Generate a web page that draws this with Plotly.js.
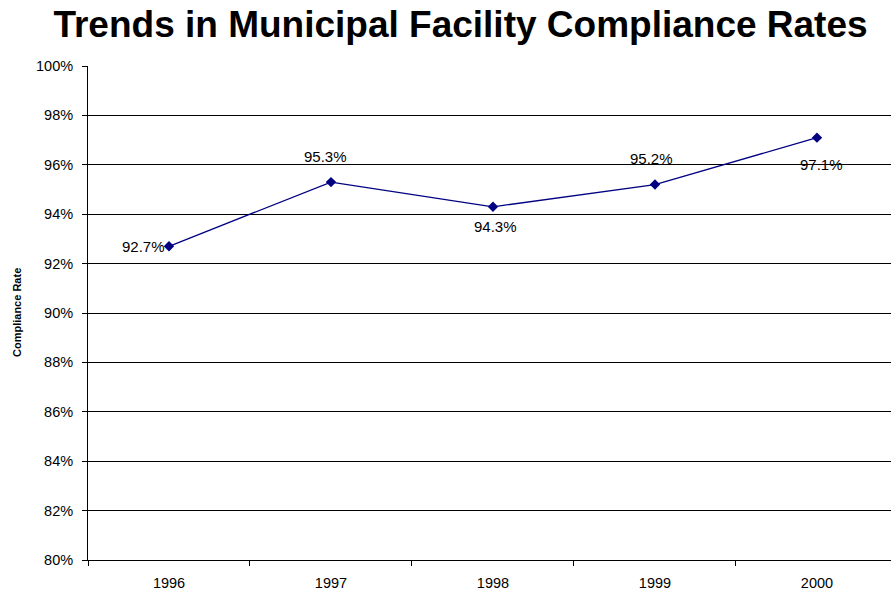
<!DOCTYPE html>
<html>
<head>
<meta charset="utf-8">
<script src="https://cdn.plot.ly/plotly-3.0.1.min.js"></script>
<style>html,body{margin:0;padding:0;background:#fff;}#chart{width:891px;height:594px;}</style>
</head>
<body>
<div id="chart"></div>
<script>
const years = ['1996', '1997', '1998', '1999', '2000'];
const rates = [0.927, 0.953, 0.943, 0.952, 0.971];
const labels = ['92.7%', '95.3%', '94.3%', '95.2%', '97.1%'];
const yTicks = [0.80, 0.82, 0.84, 0.86, 0.88, 0.90, 0.92, 0.94, 0.96, 0.98, 1.00];
const yTickLabels = ['80%', '82%', '84%', '86%', '88%', '90%', '92%', '94%', '96%', '98%', '100%'];
const yTitle = 'Compliance Rate';
const chartTitle = 'Trends in Municipal Facility Compliance Rates';

// label placement (style only): pixel offsets of each data label from its point
const labelShiftX = [-26, -5, 3, -3, 5];
const labelShiftY = [0, 26, -20, 26, -27];

const FONT = 'Arial, Liberation Sans, sans-serif';

const trace = {
  x: years,
  y: rates,
  type: 'scatter',
  mode: 'lines+markers',
  line: {color: '#000080', width: 1.3},
  marker: {symbol: 'diamond', size: 8, color: '#000080'},
  cliponaxis: false,
  hoverinfo: 'skip'
};

const annotations = [];
for (let i = 0; i < years.length; i++) {
  annotations.push({
    x: i, y: rates[i], xref: 'x', yref: 'y',
    text: labels[i], showarrow: false,
    xanchor: 'center', yanchor: 'middle',
    xshift: labelShiftX[i], yshift: labelShiftY[i],
    font: {family: FONT, size: 15, color: '#000000'}
  });
}
// y-axis title as a rotated annotation
annotations.push({
  xref: 'paper', yref: 'paper', x: (17 - 88) / 803, y: 0.5,
  xanchor: 'center', yanchor: 'middle', textangle: -90,
  text: '<b>' + yTitle + '</b>', showarrow: false,
  font: {family: FONT, size: 11, color: '#000000'}
});

const layout = {
  width: 891, height: 594,
  margin: {l: 88, r: 0, t: 66, b: 34},
  paper_bgcolor: '#fff', plot_bgcolor: '#fff',
  showlegend: false,
  font: {family: FONT, color: '#000'},
  title: {
    text: '<b>' + chartTitle + '</b>',
    font: {size: 37, color: '#000', family: FONT},
    x: 460.5 / 891, xanchor: 'center', y: 0.960, yanchor: 'middle'
  },
  annotations: annotations,
  xaxis: {
    type: 'category',
    range: [-0.5, 4.457],
    showgrid: false,
    showline: true, linecolor: '#000', linewidth: 1,
    ticks: 'outside', tickson: 'boundaries', ticklen: 5, tickcolor: '#000',
    ticklabelstandoff: 10,
    tickfont: {size: 14.5, color: '#000'},
    zeroline: false, fixedrange: true
  },
  yaxis: {
    range: [0.80, 1.00],
    tickvals: yTicks, ticktext: yTickLabels,
    showgrid: true, gridcolor: '#000', gridwidth: 1,
    showline: true, linecolor: '#000', linewidth: 1,
    ticks: 'outside', ticklen: 5, tickcolor: '#000',
    ticklabelstandoff: 6,
    tickfont: {size: 14.5, color: '#000'},
    zeroline: false, fixedrange: true
  }
};

Plotly.newPlot('chart', [trace], layout, {displayModeBar: false, staticPlot: true});
</script>
</body>
</html>
